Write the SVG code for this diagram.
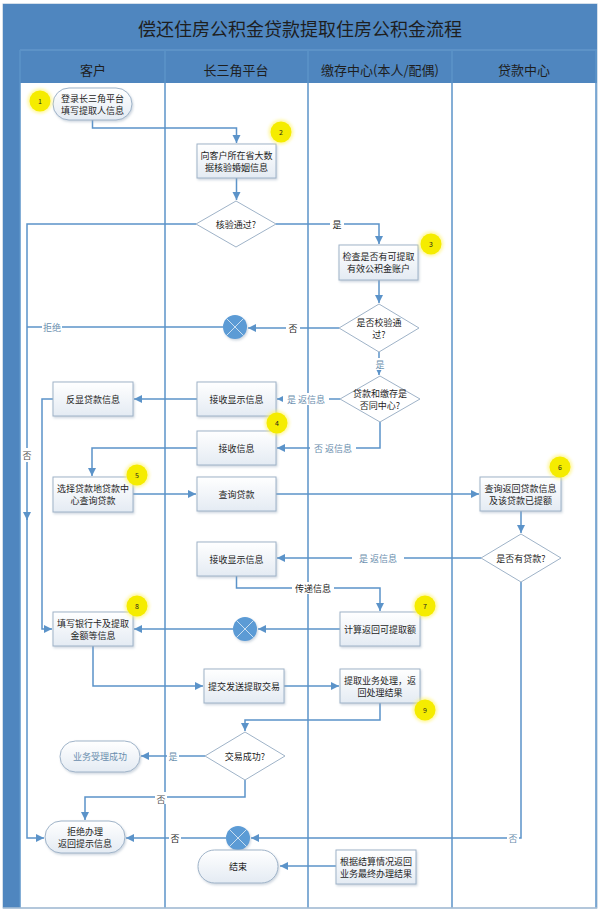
<svg xmlns="http://www.w3.org/2000/svg" width="600" height="915" viewBox="0 0 600 915">
<defs>
<linearGradient id="g" x1="0" y1="0" x2="0" y2="1"><stop offset="0" stop-color="#ffffff"/><stop offset="1" stop-color="#e4ebf3"/></linearGradient>
<filter id="sh" x="-20%" y="-20%" width="140%" height="150%"><feDropShadow dx="1" dy="1.5" stdDeviation="1" flood-color="#8fa3b8" flood-opacity="0.45"/></filter>
<filter id="glow" x="-50%" y="-50%" width="200%" height="200%"><feGaussianBlur stdDeviation="1.5"/></filter>
<marker id="a" markerUnits="userSpaceOnUse" markerWidth="9" markerHeight="9" refX="8" refY="4" orient="auto"><path d="M0,0 L8,4 L0,8 z" fill="#5b93c9"/></marker>
</defs>
<style>
text{font-family:"Noto Sans CJK SC","Liberation Sans",sans-serif;fill:#1e1e1e}
.t{font-size:9px;text-anchor:middle;dominant-baseline:central}
.h{font-size:13px;text-anchor:middle;dominant-baseline:central}
.lb{font-size:9px;text-anchor:middle;dominant-baseline:central}
.lg{fill:#6a8eae}
.box{fill:url(#g);stroke:#9fb3c8;stroke-width:1;filter:url(#sh)}
.dia{fill:#ffffff;stroke:#9fb3c8;stroke-width:1}
.ln{fill:none;stroke:#5b93c9;stroke-width:1.5}
.ar{marker-end:url(#a)}
.lane{stroke:#5b93c9;stroke-width:1.5}
.bg{fill:#ffffff}
.xc{fill:#5b9bd5;filter:url(#sh)}
.xl{stroke:#ffffff;stroke-width:0.8;opacity:0.85}
.bd{fill:#f5ec00}
.bdg{fill:#fff36a;opacity:0.6;filter:url(#glow)}
.bn{font-size:7px;text-anchor:middle;dominant-baseline:central}
</style>

<g id="frame">
<rect x="3" y="4" width="594" height="904" fill="#ffffff" stroke="#a9bfd6" stroke-width="1"/>
<rect x="3" y="4" width="594" height="46" fill="#4f86bf"/>
<rect x="3" y="50" width="594" height="33" fill="#4f86bf"/>
<line x1="20" y1="50" x2="597" y2="50" stroke="#6d9fd0" stroke-width="1"/>
<rect x="3" y="50" width="17" height="858" fill="#4f86bf"/>
<line class="lane" x1="165" y1="50" x2="165" y2="908"/>
<line class="lane" x1="308" y1="50" x2="308" y2="908"/>
<line class="lane" x1="452" y1="50" x2="452" y2="908"/>
<line class="lane" x1="596" y1="50" x2="596" y2="908"/>
<line class="lane" x1="20" y1="50" x2="20" y2="908"/>
<line x1="3" y1="908" x2="597" y2="908" stroke="#a9bfd6" stroke-width="1.5"/>
<text x="300" y="28" style="font-size:18px;text-anchor:middle;dominant-baseline:central">偿还住房公积金贷款提取住房公积金流程</text>
<text class="h" x="93" y="69">客户</text>
<text class="h" x="236" y="69">长三角平台</text>
<text class="h" x="380" y="69">缴存中心(本人/配偶)</text>
<text class="h" x="524" y="69">贷款中心</text>
</g>

<g id="connectors">
<polyline class="ln ar" points="92.5,120 92.5,128 236.5,128 236.5,143"/>
<polyline class="ln ar" points="236.5,178 236.5,200"/>
<polyline class="ln ar" points="196,224 27,224 27,520"/>
<polyline class="ln ar" points="27,518 27,838 44,838"/>
<polyline class="ln ar" points="276,224 379,224 379,244"/>
<polyline class="ln ar" points="379,280 379,303"/>
<polyline class="ln ar" points="339,328 248,328"/>
<polyline class="ln" points="223,327 27,327"/>
<polyline class="ln ar" points="379,352 379,375"/>
<polyline class="ln ar" points="340,399 277,399"/>
<polyline class="ln ar" points="197,399 134,399"/>
<polyline class="ln ar" points="53,399 42,399 42,629 52,629"/>
<polyline class="ln ar" points="380,422 380,448 277,448"/>
<polyline class="ln ar" points="197,448 92,448 92,476"/>
<polyline class="ln ar" points="133,494 196,494"/>
<polyline class="ln ar" points="276,494 479,494"/>
<polyline class="ln ar" points="521,511 521,533"/>
<polyline class="ln ar" points="481,558 277,558"/>
<polyline class="ln ar" points="521,582 521,838 251,838"/>
<polyline class="ln ar" points="226,838 126,838"/>
<polyline class="ln ar" points="236.5,576 236.5,588 380,588 380,611"/>
<polyline class="ln ar" points="340,629 258,629"/>
<polyline class="ln ar" points="233,629 134,629"/>
<polyline class="ln ar" points="93,646 93,686 203,686"/>
<polyline class="ln ar" points="284,686 339,686"/>
<polyline class="ln ar" points="380,703 380,720 245,720 245,731"/>
<polyline class="ln ar" points="205,756 141,756"/>
<polyline class="ln ar" points="245,780 245,797 85,797 85,820"/>
<polyline class="ln ar" points="336,866 280,866"/>
<g id="labels">
<rect class="bg" x="21" y="448" width="12" height="14"/><text class="lb" x="27" y="455" style="fill:#555">否</text>
<rect class="bg" x="330" y="218" width="14" height="12"/><text class="lb" x="337" y="224">是</text>
<rect class="bg" x="286" y="322" width="14" height="12"/><text class="lb" x="293" y="328">否</text>
<rect class="bg" x="42" y="321" width="20" height="12"/><text class="lb lg" x="52" y="327">拒绝</text>
<rect class="bg" x="374" y="358" width="12" height="12"/><text class="lb lg" x="380" y="364">是</text>
<rect class="bg" x="283" y="393" width="46" height="12"/><text class="lb lg" x="306" y="399">是 返信息</text>
<rect class="bg" x="310" y="442" width="46" height="12"/><text class="lb lg" x="333" y="448">否 返信息</text>
<rect class="bg" x="352" y="552" width="52" height="12"/><text class="lb lg" x="378" y="558">是  返信息</text>
<rect class="bg" x="507" y="832" width="12" height="12"/><text class="lb lg" x="513" y="838">否</text>
<rect class="bg" x="169" y="832" width="12" height="12"/><text class="lb" x="175" y="838">否</text>
<rect class="bg" x="292" y="582" width="42" height="12"/><text class="lb" x="313" y="588">传递信息</text>
<rect class="bg" x="167" y="750" width="12" height="12"/><text class="lb lg" x="173" y="756">是</text>
<rect class="bg" x="155" y="792" width="12" height="12"/><text class="lb" x="161" y="799" style="fill:#555">否</text>
</g>
</g>

<g id="n1"><rect class="box" x="53" y="88" width="79" height="32" rx="16"/><text class="t" x="92.5" y="98">登录长三角平台</text><text class="t" x="92.5" y="110">填写提取人信息</text></g>
<g id="n2"><rect class="box" x="197" y="144" width="79" height="34"/><text class="t" x="236.5" y="155">向客户所在省大数</text><text class="t" x="236.5" y="167">据核验婚姻信息</text></g>
<g id="d1"><polygon class="dia" points="236,201 276,224 236,247 196,224"/><text class="t" x="236" y="224">核验通过?</text></g>
<g id="n3"><rect class="box" x="339" y="245" width="79" height="35"/><text class="t" x="378.5" y="256">检查是否有可提取</text><text class="t" x="378.5" y="268">有效公积金账户</text></g>
<g id="d2"><polygon class="dia" points="379,304 419,328 379,352 339,328"/><text class="t" x="379" y="322">是否校验通</text><text class="t" x="379" y="334">过?</text></g>
<g id="x1"><circle class="xc" cx="235" cy="327" r="12"/><line class="xl" x1="226.5" y1="318.5" x2="243.5" y2="335.5"/><line class="xl" x1="243.5" y1="318.5" x2="226.5" y2="335.5"/></g>
<g id="d3"><polygon class="dia" points="380,376 420,399 380,422 340,399"/><text class="t" x="380" y="393">贷款和缴存是</text><text class="t" x="380" y="405">否同中心?</text></g>
<g id="n4a"><rect class="box" x="197" y="382" width="79" height="34"/><text class="t" x="236.5" y="399">接收显示信息</text></g>
<g id="n4b"><rect class="box" x="53" y="382" width="80" height="34"/><text class="t" x="93" y="399">反显贷款信息</text></g>
<g id="n4c"><rect class="box" x="197" y="431" width="79" height="34"/><text class="t" x="236.5" y="448">接收信息</text></g>
<g id="n5"><rect class="box" x="53" y="477" width="80" height="35"/><text class="t" x="93" y="488">选择贷款地贷款中</text><text class="t" x="93" y="500">心查询贷款</text></g>
<g id="n5b"><rect class="box" x="197" y="477" width="79" height="34"/><text class="t" x="236.5" y="494">查询贷款</text></g>
<g id="n6"><rect class="box" x="480" y="477" width="81" height="34"/><text class="t" x="520.5" y="488">查询返回贷款信息</text><text class="t" x="520.5" y="500">及该贷款已提额</text></g>
<g id="d4"><polygon class="dia" points="521,534 561,558 521,582 481,558"/><text class="t" x="521" y="558">是否有贷款?</text></g>
<g id="n7a"><rect class="box" x="197" y="542" width="79" height="34"/><text class="t" x="236.5" y="559">接收显示信息</text></g>
<g id="n7"><rect class="box" x="340" y="612" width="80" height="34"/><text class="t" x="380" y="629">计算返回可提取额</text></g>
<g id="x2"><circle class="xc" cx="245" cy="629" r="12"/><line class="xl" x1="236.5" y1="620.5" x2="253.5" y2="637.5"/><line class="xl" x1="253.5" y1="620.5" x2="236.5" y2="637.5"/></g>
<g id="n8"><rect class="box" x="53" y="612" width="80" height="34"/><text class="t" x="93" y="623">填写银行卡及提取</text><text class="t" x="93" y="635">金额等信息</text></g>
<g id="n9a"><rect class="box" x="204" y="669" width="80" height="34"/><text class="t" x="244" y="686">提交发送提取交易</text></g>
<g id="n9"><rect class="box" x="340" y="669" width="80" height="34"/><text class="t" x="380" y="680">提取业务处理，返</text><text class="t" x="380" y="692">回处理结果</text></g>
<g id="d5"><polygon class="dia" points="245,732 285,756 245,780 205,756"/><text class="t" x="245" y="756">交易成功?</text></g>
<g id="ok"><rect class="box" x="60" y="741" width="80" height="31" rx="15.5"/><text class="t lg" x="100" y="756.5">业务受理成功</text></g>
<g id="rej"><rect class="box" x="45" y="821" width="80" height="32" rx="16"/><text class="t" x="85" y="831">拒绝办理</text><text class="t" x="85" y="843">返回提示信息</text></g>
<g id="x3"><circle class="xc" cx="238" cy="838" r="12"/><line class="xl" x1="229.5" y1="829.5" x2="246.5" y2="846.5"/><line class="xl" x1="246.5" y1="829.5" x2="229.5" y2="846.5"/></g>
<g id="end"><rect class="box" x="198" y="850" width="80" height="33" rx="16.5"/><text class="t" x="238" y="866.5">结束</text></g>
<g id="fin"><rect class="box" x="336" y="850" width="80" height="34"/><text class="t" x="376" y="861">根据结算情况返回</text><text class="t" x="376" y="873">业务最终办理结果</text></g>

<g id="badges">
<g id="b1"><circle class="bdg" cx="40" cy="101" r="12.5"/><circle class="bd" cx="40" cy="101" r="10.5"/><text class="bn" x="40" y="101">1</text></g>
<g id="b2"><circle class="bdg" cx="281" cy="132" r="12.5"/><circle class="bd" cx="281" cy="132" r="10.5"/><text class="bn" x="281" y="132">2</text></g>
<g id="b3"><circle class="bdg" cx="431" cy="244" r="12.5"/><circle class="bd" cx="431" cy="244" r="10.5"/><text class="bn" x="431" y="244">3</text></g>
<g id="b4"><circle class="bdg" cx="277" cy="423" r="12.5"/><circle class="bd" cx="277" cy="423" r="10.5"/><text class="bn" x="277" y="423">4</text></g>
<g id="b5"><circle class="bdg" cx="137" cy="475" r="12.5"/><circle class="bd" cx="137" cy="475" r="10.5"/><text class="bn" x="137" y="475">5</text></g>
<g id="b6"><circle class="bdg" cx="560" cy="467" r="12.5"/><circle class="bd" cx="560" cy="467" r="10.5"/><text class="bn" x="560" y="467">6</text></g>
<g id="b7"><circle class="bdg" cx="425" cy="606" r="12.5"/><circle class="bd" cx="425" cy="606" r="10.5"/><text class="bn" x="425" y="606">7</text></g>
<g id="b8"><circle class="bdg" cx="137" cy="606" r="12.5"/><circle class="bd" cx="137" cy="606" r="10.5"/><text class="bn" x="137" y="606">8</text></g>
<g id="b9"><circle class="bdg" cx="425" cy="710" r="12.5"/><circle class="bd" cx="425" cy="710" r="10.5"/><text class="bn" x="425" y="710">9</text></g>
</g>
</svg>
